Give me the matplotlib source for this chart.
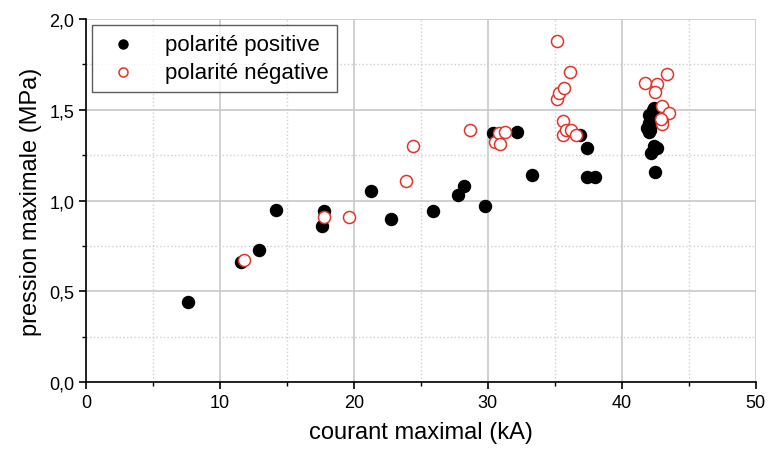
import matplotlib.pyplot as plt
from matplotlib.ticker import MultipleLocator, FuncFormatter

# polarite positive
pos_x = [7.6, 11.6, 12.9, 14.2, 17.6, 17.8, 21.3, 22.8, 25.9, 27.8, 28.2, 29.8,
         30.4, 32.2, 33.3, 36.9, 37.4, 37.4, 38.0,
         42.0, 42.0, 41.9, 42.1, 42.2, 42.3, 42.4, 42.1, 42.2, 42.4, 42.6, 42.5, 42.0]
pos_y = [0.44, 0.66, 0.73, 0.95, 0.86, 0.94, 1.05, 0.90, 0.94, 1.03, 1.08, 0.97,
         1.37, 1.38, 1.14, 1.36, 1.29, 1.13, 1.13,
         1.47, 1.43, 1.40, 1.39, 1.45, 1.50, 1.51, 1.41, 1.26, 1.30, 1.29, 1.16, 1.38]

# polarite negative
neg_x = [11.8, 17.8, 19.6, 23.9, 24.4, 28.7, 30.5, 30.8, 30.9, 31.3,
         35.2, 35.2, 35.3, 35.7, 36.1, 35.6, 35.6, 35.8, 36.2, 36.6,
         41.7, 42.6, 42.5, 43.4, 43.0, 43.5, 43.0, 43.0, 42.9]
neg_y = [0.67, 0.91, 0.91, 1.11, 1.30, 1.39, 1.32, 1.37, 1.31, 1.38,
         1.88, 1.56, 1.59, 1.62, 1.71, 1.44, 1.36, 1.39, 1.39, 1.36,
         1.65, 1.64, 1.60, 1.70, 1.52, 1.48, 1.44, 1.42, 1.45]

plt.rcParams['font.family'] = ['Liberation Sans', 'DejaVu Sans']

fig = plt.figure(figsize=(7.68, 4.56), dpi=100)
ax = fig.add_axes([0.112, 0.16, 0.872, 0.796])

ax.scatter(pos_x, pos_y, s=75, color='black', zorder=3, label='polarité positive')
ax.scatter(neg_x, neg_y, s=75, facecolors='white', edgecolors='#e2342b',
           linewidths=1.1, zorder=4, label='polarité négative')

ax.set_xlim(0, 50)
ax.set_ylim(0, 2.0)
ax.xaxis.set_major_locator(MultipleLocator(10))
ax.xaxis.set_minor_locator(MultipleLocator(5))
ax.yaxis.set_major_locator(MultipleLocator(0.5))
ax.yaxis.set_minor_locator(MultipleLocator(0.25))
ax.yaxis.set_major_formatter(FuncFormatter(lambda v, p: f"{v:.1f}".replace('.', ',')))

ax.grid(which='major', color='#c8c8c8', linewidth=1.2)
ax.grid(which='minor', color='#d0d0d0', linestyle=':', linewidth=1.0)
ax.set_axisbelow(True)

for s in ['top', 'right']:
    ax.spines[s].set_visible(False)
ax.spines['left'].set_linewidth(1.2)
ax.spines['bottom'].set_linewidth(1.2)
ax.tick_params(which='major', direction='out', length=5, width=1.2, labelsize=13)
ax.tick_params(which='minor', direction='out', length=3, width=1.0)

ax.set_xlabel('courant maximal (kA)', fontsize=17, labelpad=7)
ax.set_ylabel('pression maximale (MPa)', fontsize=17, labelpad=5)

leg = ax.legend(loc='upper left', fontsize=16, frameon=True, fancybox=False,
                edgecolor='#333333', handletextpad=0.9, borderaxespad=0.25,
                labelspacing=0.35, borderpad=0.4, markerscale=0.75)
leg.get_frame().set_linewidth(1.0)

fig.savefig('out.png', dpi=100)
